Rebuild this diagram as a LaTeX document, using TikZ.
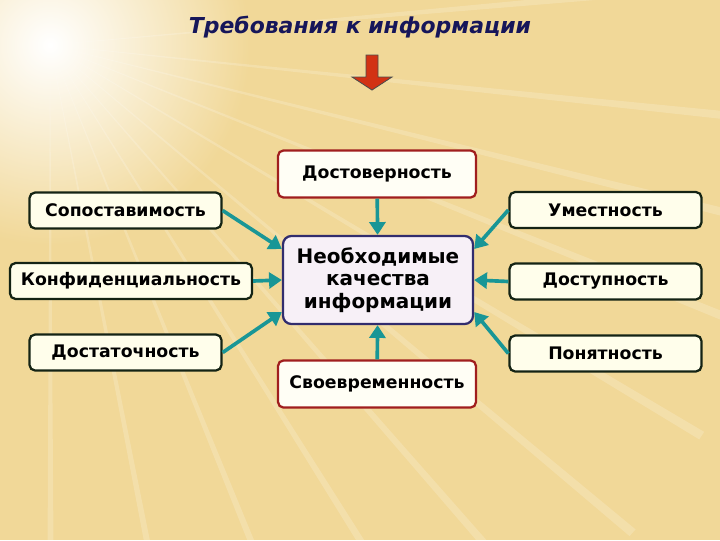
\documentclass[tikz,border=0pt]{standalone}
\usepackage{fontspec}
\setmainfont{DejaVu Sans}
\usepackage{tikz}
\usetikzlibrary{arrows.meta, positioning, calc}
\definecolor{bgsand}{RGB}{241,216,152}
\definecolor{titleblue}{RGB}{22,22,90}
\definecolor{redframe}{RGB}{160,30,30}
\definecolor{navyframe}{RGB}{50,45,110}
\definecolor{darkframe}{RGB}{20,35,20}
\definecolor{tealarrow}{RGB}{25,150,150}
\definecolor{redarrow}{RGB}{210,50,20}
\tikzset{every node/.append style={align=center, inner sep=3pt}}

\begin{document}
\begin{tikzpicture}[
    x=0.025cm, y=-0.025cm,
    font=\bfseries\fontsize{12.3}{14}\selectfont,
    side/.style={rectangle, rounded corners=4pt, draw=darkframe, fill=white!92!yellow,
        line width=1.6pt, minimum width=4.8cm, minimum height=0.9cm},
    top/.style={rectangle, rounded corners=4pt, draw=redframe, fill=white!96!yellow,
        line width=1.6pt, minimum width=4.95cm, minimum height=1.18cm},
    core/.style={rectangle, rounded corners=6pt, draw=navyframe, fill=white!94!violet,
        line width=1.6pt, minimum width=4.75cm, minimum height=2.2cm,
        font=\bfseries\fontsize{14.2}{16}\selectfont},
    a/.style={-{Triangle[length=3.2mm, width=4mm]}, line width=2.6pt, tealarrow}
]
% ===== FON =====
\useasboundingbox (0,0) rectangle (720,540);
\fill[bgsand] (0,0) rectangle (720,540);
\shade[inner color=white, outer color=bgsand] (50,45) circle (200);
\foreach \ang in {-5,6,14,22,31,40,49,58,68,79,90}
  \fill[white, opacity=0.18] (50,45) -- ++(\ang-0.4:760) -- ++(\ang+92:9) -- cycle;
% ===== ZAGOLOVOK =====
\node[font=\bfseries\itshape\fontsize{15.6}{17}\selectfont, text=titleblue] (title) at (360,27)
    {Требования к информации};
\draw[fill=redarrow, draw=black!70, line width=0.6pt]
    (366,55) -- (378,55) -- (378,77) -- (392,77) -- (372,90) -- (352,77) -- (366,77) -- cycle;
% ===== CENTR =====
\node[core] (need) at (378,280) {Необходимые\\качества\\информации};
\node[top] (dost) at (377,174) {Достоверность};
\node[top] (svoe) at (377,384) {Своевременность};
% ===== SLEVA =====
\node[side] (sopo) at (125.5,210.5) {Сопоставимость};
\node[side, minimum width=6.05cm] (konf) at (131,281) {Конфиденциальность};
\node[side] (dosta) at (125.5,352.5) {Достаточность};
% ===== SPRAVA =====
\node[side] (umes) at (605.5,210) {Уместность};
\node[side] (dostu) at (605.5,281.5) {Доступность};
\node[side] (pon) at (605.5,353.5) {Понятность};
% ===== STRELKI =====
\draw[a] (dost) -- (need);
\draw[a] (svoe) -- (need);
\draw[a] (sopo.east) -- ($(need.west)+(0,-31)$);
\draw[a] (konf.east) -- (need.west);
\draw[a] (dosta.east) -- ($(need.west)+(0,32)$);
\draw[a] (umes.west) -- ($(need.east)+(0,-31)$);
\draw[a] (dostu.west) -- (need.east);
\draw[a] (pon.west) -- ($(need.east)+(0,32)$);
\end{tikzpicture}
\end{document}
